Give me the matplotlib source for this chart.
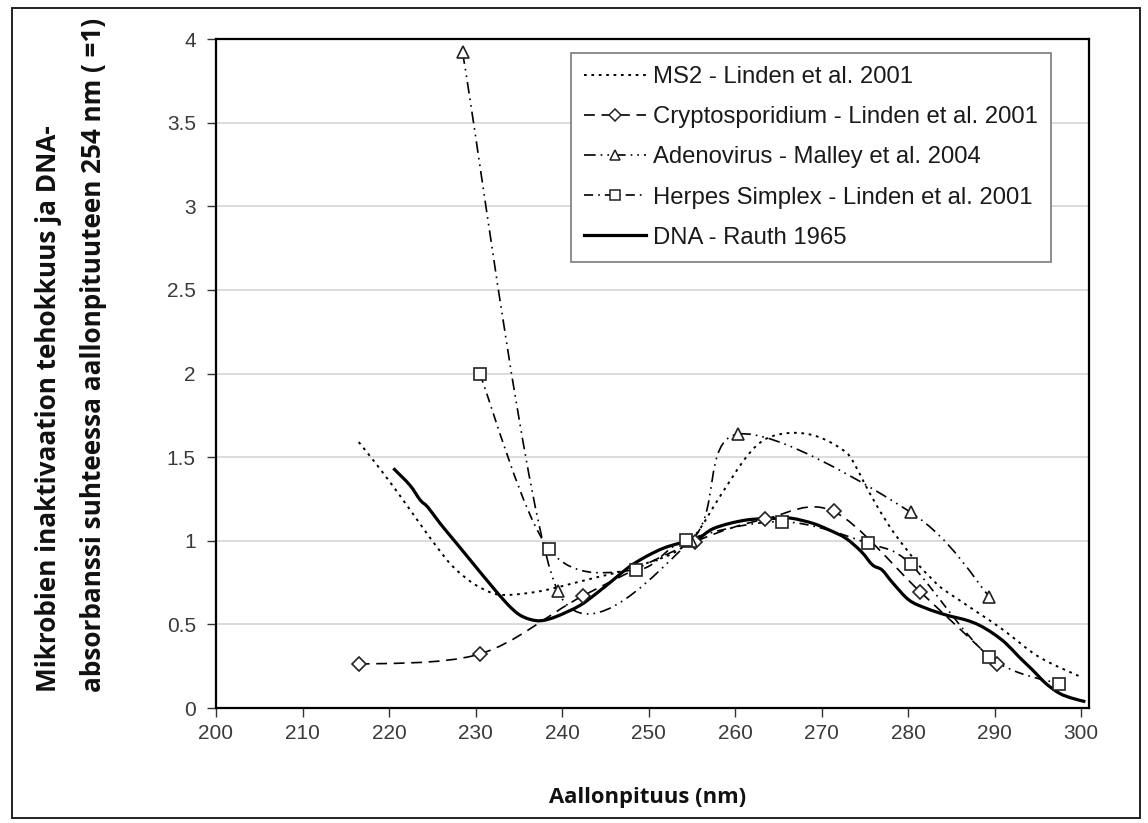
import numpy as np
import matplotlib
matplotlib.use("Agg")
import matplotlib.pyplot as plt
from matplotlib.path import Path
from matplotlib.patches import PathPatch, Rectangle
from matplotlib.lines import Line2D
from matplotlib.ticker import FuncFormatter
from matplotlib import font_manager as fm

# ---------------- data ----------------
ms2_x = [216.5, 218.2, 220.7, 223.6, 225.5, 227.4, 229.7, 232.0, 233.6, 235.9, 238.2,
         241.3, 244.3, 246.7, 250.0, 253.0, 255.5, 258.2, 261.3, 263.6, 266.6, 269.7,
         272.8, 274.0, 275.1, 276.5, 278.2, 280.1, 281.3, 282.6, 283.8, 285.9, 288.2,
         290.5, 292.5, 294.4, 296.2, 298.2, 299.8]
ms2_y = [1.59, 1.48, 1.31, 1.10, 0.965, 0.845, 0.746, 0.686, 0.676, 0.686, 0.706,
         0.746, 0.785, 0.815, 0.87, 0.93, 1.04, 1.26, 1.50, 1.61, 1.645, 1.62,
         1.53, 1.44, 1.33, 1.20, 1.06, 0.93, 0.85, 0.78, 0.72, 0.646, 0.566,
         0.486, 0.407, 0.33, 0.275, 0.227, 0.19]

crypto_x = [216.5, 230.5, 242.4, 255.4, 263.5, 271.4, 281.4, 290.3]
crypto_y = [0.261, 0.323, 0.67, 0.995, 1.13, 1.175, 0.695, 0.263]

adeno_x = [228.5, 239.5, 254.9, 260.4, 280.3, 289.4]
adeno_y = [3.92, 0.70, 1.0, 1.638, 1.17, 0.666]

herpes_x = [230.5, 238.5, 248.5, 254.35, 265.4, 275.4, 280.3, 289.4, 297.5]
herpes_y = [1.997, 0.949, 0.825, 1.004, 1.114, 0.985, 0.86, 0.307, 0.143]

dna_x = [220.5, 222.4, 223.6, 224.5, 225.9, 227.8, 229.7, 231.6, 233.6, 235.0, 236.3,
         237.6, 239.3, 242.0, 244.0, 245.9, 247.8, 249.7, 251.7, 253.6, 255.5, 257.6,
         261.3, 265.1, 266.6, 269.0, 270.9, 272.8, 274.6, 275.9, 277.0, 278.2, 280.1,
         282.1, 284.4, 286.7, 288.2, 289.8, 291.3, 292.8, 294.4, 295.9, 297.5, 299.0,
         300.5]
dna_y = [1.433, 1.333, 1.244, 1.20, 1.104, 0.985, 0.865, 0.746, 0.626, 0.56, 0.53,
         0.522, 0.546, 0.611, 0.686, 0.765, 0.845, 0.905, 0.955, 0.985, 1.004, 1.075,
         1.124, 1.134, 1.134, 1.104, 1.064, 1.015, 0.935, 0.855, 0.825, 0.75, 0.646,
         0.596, 0.556, 0.526, 0.496, 0.447, 0.387, 0.307, 0.227, 0.148, 0.088, 0.058,
         0.038]

labels = ["MS2 - Linden et al. 2001",
          "Cryptosporidium - Linden et al. 2001",
          "Adenovirus - Malley et al. 2004",
          "Herpes Simplex - Linden et al. 2001",
          "DNA - Rauth 1965"]
xlabel = "Aallonpituus (nm)"
ylabel = "Mikrobien inaktivaation tehokkuus ja DNA-\nabsorbanssi suhteessa aallonpituuteen 254 nm ( =1)"
xticks = list(range(200, 301, 10))
yticks = [0, 0.5, 1, 1.5, 2, 2.5, 3, 3.5, 4]


def has_font(name):
    try:
        fm.findfont(fm.FontProperties(family=name), fallback_to_default=False)
        return True
    except Exception:
        return False


if has_font("Liberation Sans Narrow"):
    lab_family, lab_size, xl_size = ["Liberation Sans Narrow", "DejaVu Sans"], 21.5, 19
else:
    lab_family, lab_size, xl_size = ["Open Sans", "DejaVu Sans"], 18.8, 15.8
tick_family = ["Liberation Sans", "DejaVu Sans"]

W, H = 1148, 823
fig = plt.figure(figsize=(W / 100, H / 100), dpi=100)
fig.patch.set_facecolor("white")
fig.patches.append(Rectangle((12 / W, 1 - 818 / H), (1140 - 12) / W, (818 - 8) / H,
                             transform=fig.transFigure, fill=False,
                             edgecolor="#222222", lw=1.4, zorder=0))

ax = fig.add_axes([216 / W, 1 - 708 / H, (1089 - 216) / W, (708 - 39) / H])
ax.set_xlim(200, 300.92)
ax.set_ylim(0, 4)
ax.set_xticks(xticks)
ax.set_yticks(yticks)
ax.yaxis.set_major_formatter(FuncFormatter(lambda v, p: "%g" % v))
ax.grid(axis="y", color="#d9d9d9", lw=1.3, zorder=0)
ax.set_axisbelow(True)
for s in ax.spines.values():
    s.set_color("black")
    s.set_linewidth(1.6)
ax.tick_params(direction="out", length=6.5, width=1.0, color="#333333",
               labelsize=15, labelcolor="#3a3a3a")
ax.tick_params(axis="y", pad=8)
ax.tick_params(axis="x", pad=5)
for t in ax.get_xticklabels() + ax.get_yticklabels():
    t.set_family(tick_family)


def excel_smooth_path(xs, ys):
    P = ax.transData.transform(np.column_stack([xs, ys]).astype(float))
    n = len(P)

    def arm(i):
        p1 = P[i]
        p0 = P[i - 1] if i > 0 else P[i]
        p2 = P[i + 1] if i < n - 1 else P[i]
        d02 = np.hypot(*(p2 - p0))
        if d02 == 0:
            return np.zeros(2)
        f = 1.0 / 6.0
        if 0 < i < n - 1:
            m = min(np.hypot(*(p1 - p0)), np.hypot(*(p2 - p1)))
            if d02 * f > m / 2:
                f = m / (2 * d02)
        return (p2 - p0) * f

    verts = [P[0]]
    codes = [Path.MOVETO]
    for i in range(n - 1):
        verts += [P[i] + arm(i), P[i + 1] - arm(i + 1), P[i + 1]]
        codes += [Path.CURVE4] * 3
    verts = ax.transData.inverted().transform(np.array(verts))
    return Path(verts, codes)


styles = {
    "ms2": dict(ls=(0, (1.4, 2.4)), lw=1.4),
    "crypto": dict(ls=(0, (6.5, 4.0)), lw=1.2),
    "adeno": dict(ls=(0, (7, 3, 1, 3, 1, 3)), lw=1.2),
    "herpes": dict(ls=(0, (5.5, 3, 1, 3)), lw=1.2),
    "dna": dict(ls="-", lw=2.3),
}
series = [("ms2", ms2_x, ms2_y, None),
          ("crypto", crypto_x, crypto_y, "D"),
          ("adeno", adeno_x, adeno_y, "^"),
          ("herpes", herpes_x, herpes_y, "s"),
          ("dna", dna_x, dna_y, None)]
msizes = {"D": 7.5, "^": 8.5, "s": 8.0}

handles = []
for (key, xs, ys, mk), lab in zip(series, labels):
    st = styles[key]
    patch = PathPatch(excel_smooth_path(xs, ys), facecolor="none", edgecolor="black",
                      lw=st["lw"], linestyle=st["ls"], capstyle="butt",
                      zorder=3.5 if key == "dna" else 3)
    ax.add_patch(patch)
    if mk:
        ax.plot(xs, ys, linestyle="none", marker=mk, ms=msizes[mk], mfc="white",
                mec="#222222", mew=1.2, zorder=4)
    handles.append(Line2D([], [], color="black", lw=st["lw"], ls=st["ls"],
                          marker=mk if mk else None, ms=msizes.get(mk, 0) * 0.85,
                          mfc="white", mec="#222222", mew=1.1))

leg = ax.legend(handles, labels, loc="upper right",
                bbox_to_anchor=((1051 - 216) / 873, (708 - 53) / 669),
                borderaxespad=0, fancybox=False, framealpha=1, edgecolor="#7a7a7a",
                prop=dict(family=tick_family, size=17.2), handlelength=2.6,
                handletextpad=0.3, labelspacing=0.76, borderpad=0.55,
                numpoints=1)
leg.get_frame().set_linewidth(1.2)
for t in leg.get_texts():
    t.set_color("#1a1a1a")

fig.text(648 / W, 1 - 797 / H, xlabel, ha="center", va="center",
         family=lab_family, weight="bold", size=xl_size, color="#111111")
fig.text(71 / W, 1 - 355 / H, ylabel, ha="center", va="center", rotation=90,
         multialignment="left", family=lab_family, weight="bold", size=lab_size,
         color="#111111", linespacing=1.9)

fig.savefig("out.png", dpi=100, facecolor="white")
